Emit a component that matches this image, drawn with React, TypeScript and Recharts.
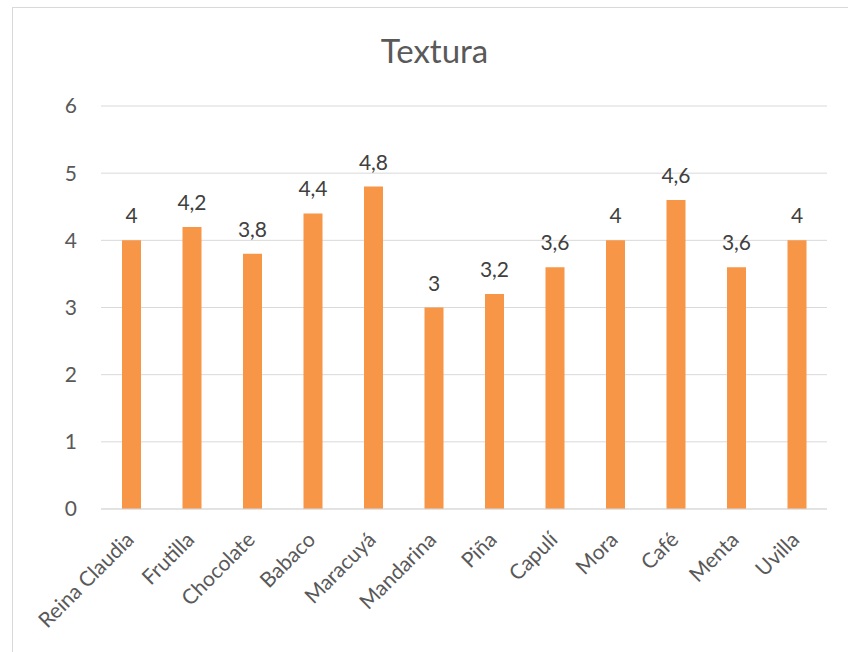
import { BarChart, Bar, XAxis, YAxis, CartesianGrid, LabelList } from 'recharts';

// Sabores evaluados y su puntuación media de textura
const sabores = [
  'Reina Claudia', 'Frutilla', 'Chocolate', 'Babaco', 'Maracuyá', 'Mandarina',
  'Piña', 'Capulí', 'Mora', 'Café', 'Menta', 'Uvilla',
];
const textura = [4, 4.2, 3.8, 4.4, 4.8, 3, 3.2, 3.6, 4, 4.6, 3.6, 4];
const yTicks = [0, 1, 2, 3, 4, 5, 6];

const data = sabores.map((sabor, i) => ({ sabor, textura: textura[i] }));

const FONT = 'Lato, "Open Sans", sans-serif';
const TEXT = '#595959';
const SIZE = 21;

// decimal comma, as the source sheet is in Spanish
const fmt = (v: number | string) => String(v).replace('.', ',');

function RotatedTick({ x, y, payload }: any) {
  const ax = x + 4;
  const ay = y + 24;
  return (
    <text
      x={ax}
      y={ay}
      transform={`rotate(-45, ${ax}, ${ay})`}
      textAnchor="end"
      fill={TEXT}
      fontSize={SIZE}
      fontFamily={FONT}
    >
      {payload.value}
    </text>
  );
}

export default function App() {
  return (
    <div style={{ position: 'absolute', left: 0, top: 0, width: 848, height: 652, background: '#fff', overflow: 'hidden' }}>
      <div style={{ position: 'absolute', left: 12, top: 7, width: 900, height: 700, border: '1px solid #D9D9D9' }} />
      <svg width={848} height={80} style={{ position: 'absolute', left: 0, top: 0 }}>
        <text x={434.5} y={63} textAnchor="middle" fontFamily={FONT} fontSize={33} fill={TEXT}>
          Textura
        </text>
      </svg>
      <BarChart
        width={848}
        height={652}
        data={data}
        margin={{ top: 106, right: 21, bottom: 33, left: 0 }}
        style={{ position: 'absolute', left: 0, top: 0 }}
      >
        <CartesianGrid vertical={false} stroke="#D9D9D9" strokeWidth={1} />
        <XAxis
          dataKey="sabor"
          interval={0}
          height={110}
          tickLine={false}
          axisLine={{ stroke: '#D9D9D9', strokeWidth: 1 }}
          tick={<RotatedTick />}
        />
        <YAxis
          width={101}
          domain={[0, 6]}
          ticks={yTicks}
          axisLine={false}
          tickLine={false}
          tickMargin={18}
          tick={{ fill: TEXT, fontSize: SIZE, fontFamily: FONT }}
        />
        <Bar dataKey="textura" fill="#F79646" barSize={19} isAnimationActive={false}>
          <LabelList
            dataKey="textura"
            position="top"
            offset={17}
            formatter={fmt}
            fill="#404040"
            fontSize={SIZE}
            fontFamily={FONT}
          />
        </Bar>
      </BarChart>
    </div>
  );
}
